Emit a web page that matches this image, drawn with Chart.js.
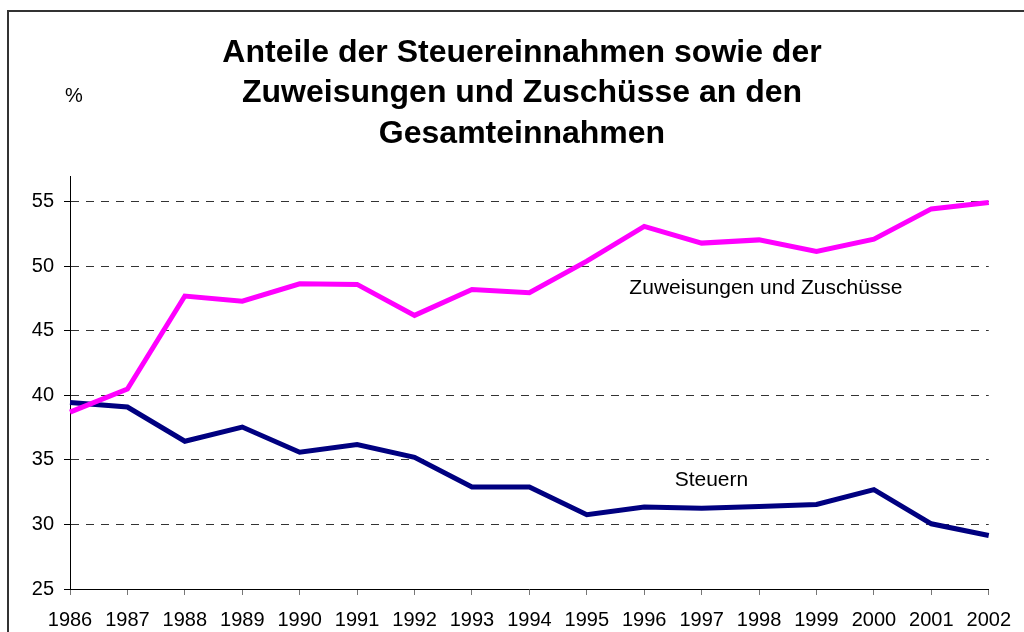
<!DOCTYPE html>
<html lang="de">
<head>
<meta charset="utf-8">
<title>Anteile der Steuereinnahmen</title>
<script src="https://cdn.jsdelivr.net/npm/chart.js@4/dist/chart.umd.min.js"></script>
<style>
    html, body { margin: 0; padding: 0; background: #fff; overflow: hidden; }
    #wrap { position: relative; width: 1024px; height: 632px; }
    #frame {
        position: absolute; left: 7px; top: 10px; right: -10px; bottom: -10px;
        border: 2px solid #333; pointer-events: none;
    }
</style>
</head>
<body>
<div id="wrap">
    <canvas id="chart" width="1024" height="632"></canvas>
    <div id="frame"></div>
</div>
<script>
    // Daten
    const years = ['1986', '1987', '1988', '1989', '1990', '1991', '1992', '1993', '1994',
                   '1995', '1996', '1997', '1998', '1999', '2000', '2001', '2002'];
    const steuern = [39.45, 39.1, 36.45, 37.55, 35.6, 36.2, 35.2, 32.9, 32.9,
                     30.75, 31.35, 31.25, 31.4, 31.55, 32.7, 30.05, 29.15];
    const zuweisungen = [38.7, 40.5, 47.7, 47.3, 48.65, 48.6, 46.2, 48.2, 47.95,
                         50.4, 53.1, 51.8, 52.05, 51.15, 52.1, 54.45, 54.95];
    const yTicks = [25, 30, 35, 40, 45, 50, 55];
    const titleLines = ['Anteile der Steuereinnahmen sowie der',
                        'Zuweisungen und Zuschüsse an den',
                        'Gesamteinnahmen'];
    // Beschriftungen im Diagramm (Kategorie-Index, Wert)
    const seriesLabels = [
        { text: 'Zuweisungen und Zuschüsse', index: 12.12, value: 48.3 },
        { text: 'Steuern', index: 11.17, value: 33.45 }
    ];

    const fontFamily = '"Liberation Sans", Arial, sans-serif';

    // Titel, "%" und Reihenbeschriftungen
    const textPlugin = {
        id: 'textPlugin',
        afterDatasetsDraw(chart) {
            const ctx = chart.ctx;
            const x = chart.scales.x, y = chart.scales.y;
            ctx.save();
            ctx.fillStyle = '#000';
            ctx.textAlign = 'center';
            ctx.textBaseline = 'middle';

            ctx.font = 'bold 32px ' + fontFamily;
            titleLines.forEach(function (line, i) {
                ctx.fillText(line, 522, 53 + i * 40.5);
            });

            ctx.font = '20px ' + fontFamily;
            ctx.fillText('%', 74, 96);

            ctx.font = '21px ' + fontFamily;
            seriesLabels.forEach(function (l) {
                ctx.fillText(l.text, x.getPixelForValue(l.index), y.getPixelForValue(l.value));
            });
            ctx.restore();
        }
    };

    new Chart(document.getElementById('chart'), {
        type: 'line',
        data: {
            labels: years,
            datasets: [
                {
                    label: 'Zuweisungen und Zuschüsse',
                    data: zuweisungen,
                    borderColor: '#ff00ff',
                    backgroundColor: '#ff00ff',
                    borderWidth: 5,
                    pointRadius: 0,
                    tension: 0
                },
                {
                    label: 'Steuern',
                    data: steuern,
                    borderColor: '#000080',
                    backgroundColor: '#000080',
                    borderWidth: 5,
                    pointRadius: 0,
                    tension: 0
                }
            ]
        },
        options: {
            responsive: false,
            animation: false,
            layout: { padding: { left: 20, right: 34, top: 176, bottom: 0 } },
            plugins: {
                legend: { display: false },
                tooltip: { enabled: false },
                title: { display: false }
            },
            scales: {
                x: {
                    offset: false,
                    border: { display: true, color: '#000', width: 1 },
                    grid: {
                        display: true,
                        drawOnChartArea: false,
                        drawTicks: true,
                        tickLength: 6,
                        color: '#777'
                    },
                    ticks: {
                        color: '#000',
                        font: { family: fontFamily, size: 20 },
                        padding: 13,
                        maxRotation: 0,
                        autoSkip: false
                    },
                    afterFit: function (scale) { scale.height = 43; }
                },
                y: {
                    min: 25,
                    max: 57,
                    border: { display: true, color: '#000', width: 1, dash: [8, 7] },
                    grid: {
                        color: function (c) { return c.tick && c.tick.value === 25 ? 'rgba(0,0,0,0)' : '#333'; },
                        tickColor: '#000',
                        tickLength: 6,
                        tickBorderDash: []
                    },
                    ticks: {
                        color: '#000',
                        font: { family: fontFamily, size: 20 },
                        padding: 10,
                        stepSize: 5
                    },
                    afterBuildTicks: function (axis) {
                        axis.ticks = yTicks.map(function (v) { return { value: v }; });
                    },
                    afterFit: function (scale) { scale.width = 50; }
                }
            }
        },
        plugins: [textPlugin]
    });
</script>
</body>
</html>
